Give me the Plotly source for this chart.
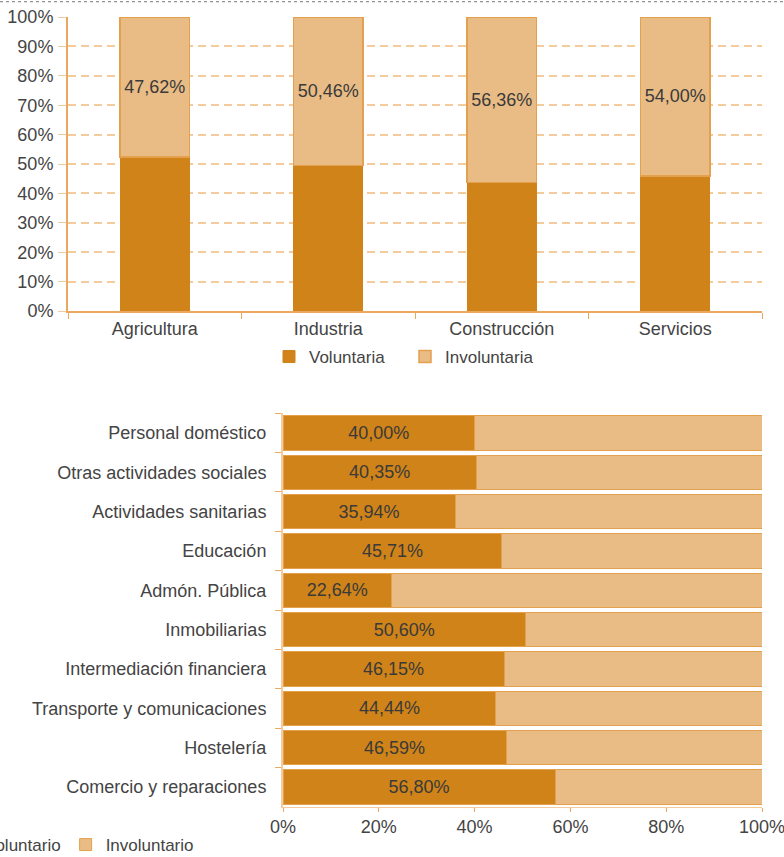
import plotly.graph_objects as go

# grafico 1: por sector
sectores = ['Agricultura', 'Industria', 'Construcción', 'Servicios']
sect_vol = [52.38, 49.54, 43.64, 46.00]
sect_invol = [47.62, 50.46, 56.36, 54.00]

# grafico 2: por rama de actividad (de arriba a abajo)
ramas = ['Personal doméstico', 'Otras actividades sociales', 'Actividades sanitarias',
         'Educación', 'Admón. Pública', 'Inmobiliarias', 'Intermediación financiera',
         'Transporte y comunicaciones', 'Hostelería', 'Comercio y reparaciones']
rama_vol = [40.00, 40.35, 35.94, 45.71, 22.64, 50.60, 46.15, 44.44, 46.59, 56.80]
rama_invol = [100 - v for v in rama_vol]

OSCURO = '#CF8318'
CLARO = '#E9BC85'
BORDE = '#E3A04E'
EJE = '#EBA85E'
REJILLA = '#F4CB9C'
TXT = '#3a3a3a'
FUENTE = 'Liberation Sans'

fig = go.Figure()

fig.add_trace(go.Bar(
    x=sectores, y=sect_vol, name='Voluntaria', width=0.4,
    marker=dict(color=OSCURO, line=dict(color=OSCURO, width=1)),
    legend='legend', hoverinfo='skip'))
fig.add_trace(go.Bar(
    x=sectores, y=sect_invol, name='Involuntaria', width=0.4,
    marker=dict(color=CLARO, line=dict(color=BORDE, width=1.5)),
    texttemplate='%{y:.2f}%', textposition='inside', insidetextanchor='middle',
    textangle=0, constraintext='none',
    textfont=dict(size=18, color=TXT, family=FUENTE),
    legend='legend', hoverinfo='skip'))

fig.add_trace(go.Bar(
    y=ramas, x=rama_vol, name='Voluntario', orientation='h', width=0.87,
    xaxis='x2', yaxis='y2',
    marker=dict(color=OSCURO, line=dict(color=BORDE, width=1)),
    texttemplate='%{x:.2f}%', textposition='inside', insidetextanchor='middle',
    textangle=0, constraintext='none',
    textfont=dict(size=18, color=TXT, family=FUENTE),
    legend='legend2', hoverinfo='skip'))
fig.add_trace(go.Bar(
    y=ramas, x=rama_invol, name='Involuntario', orientation='h', width=0.87,
    xaxis='x2', yaxis='y2',
    marker=dict(color=CLARO, line=dict(color=BORDE, width=1)),
    legend='legend2', hoverinfo='skip'))

# linea punteada superior
fig.add_shape(type='line', xref='paper', yref='paper', x0=0, x1=1, y0=0.998, y1=0.998,
              line=dict(color='#777777', width=1, dash='dot'))

fig.update_layout(
    width=784, height=857,
    margin=dict(l=0, r=0, t=0, b=0, autoexpand=False),
    paper_bgcolor='white', plot_bgcolor='white',
    barmode='stack',
    separators=',.',
    font=dict(family=FUENTE, size=18, color='#444444'),
    xaxis=dict(domain=[68/784, 762/784], anchor='y',
               showline=True, linecolor=EJE, linewidth=2,
               ticks='outside', tickson='boundaries', ticklen=6, tickcolor=EJE,
               showgrid=False, fixedrange=True),
    yaxis=dict(domain=[1 - 311/857, 1 - 17/857], anchor='x', range=[0, 100],
               dtick=10, ticksuffix='%', showline=True, linecolor=EJE, linewidth=2,
               ticks='outside', ticklen=8, tickcolor=REJILLA,
               showgrid=True, gridcolor=REJILLA, gridwidth=2, griddash='8px,5px',
               zeroline=False, ticklabelstandoff=1),
    xaxis2=dict(domain=[283/784, 762/784], anchor='y2', range=[0, 100], dtick=20,
                ticksuffix='%', showline=True, linecolor=REJILLA, linewidth=1,
                ticks='outside', ticklen=4, tickcolor=EJE, showgrid=False,
                zeroline=False, ticklabeloverflow='allow'),
    yaxis2=dict(domain=[1 - 806.7/857, 1 - 413.3/857], anchor='x2', autorange='reversed',
                showline=True, linecolor=REJILLA, linewidth=2,
                ticks='outside', tickson='boundaries', ticklen=6, tickcolor=EJE,
                showgrid=False, ticklabelstandoff=11),
    legend=dict(orientation='h', x=269/784, y=1 - 357/857, xanchor='left', yanchor='middle',
                entrywidth=91, entrywidthmode='pixels', traceorder='normal',
                font=dict(size=17, color='#444444')),
    legend2=dict(orientation='h', x=-55/784, y=1 - 845/857, xanchor='left', yanchor='middle',
                 traceorder='normal', font=dict(size=17, color='#444444')),
)

fig.write_html('out.html', config={'displayModeBar': False},
               post_script="document.body.style.margin='0px';")
